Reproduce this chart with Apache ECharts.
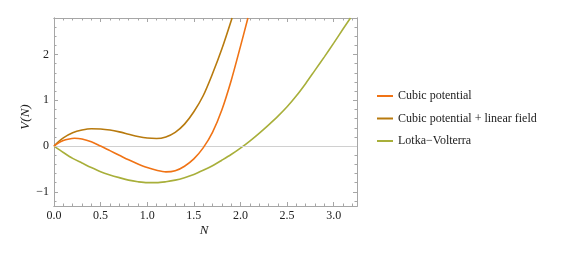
<!DOCTYPE html>
<html><head><meta charset="utf-8">
<script src="https://cdn.jsdelivr.net/npm/echarts@6/dist/echarts.min.js"></script>
<style>html,body{margin:0;padding:0;background:#fff}#c{width:569px;height:253px}</style>
</head><body><div id="c"></div>
<script>
// Series names
const seriesNames = ["Cubic potential", "Cubic potential + linear field", "Lotka\u2212Volterra"];
// Cubic potential
const cubicN = [0, 0.05, 0.1, 0.15, 0.22, 0.3, 0.4, 0.5, 0.6, 0.7, 0.8, 0.9, 1.0, 1.1, 1.2, 1.3, 1.4, 1.5, 1.6, 1.7, 1.8, 1.9, 2.0, 2.08];
const cubicV = [0, 0.07, 0.12, 0.15, 0.17, 0.155, 0.095, 0.0, -0.1, -0.2, -0.3, -0.39, -0.47, -0.53, -0.565, -0.54, -0.44, -0.28, -0.04, 0.30, 0.79, 1.43, 2.18, 2.8];
// Cubic potential + linear field
const linN = [0, 0.05, 0.1, 0.2, 0.3, 0.4, 0.5, 0.6, 0.7, 0.8, 0.9, 1.0, 1.1, 1.2, 1.3, 1.4, 1.5, 1.6, 1.7, 1.8, 1.91];
const linV = [0, 0.1, 0.18, 0.29, 0.35, 0.38, 0.375, 0.35, 0.31, 0.26, 0.21, 0.175, 0.165, 0.2, 0.3, 0.48, 0.75, 1.1, 1.58, 2.12, 2.8];
// Lotka-Volterra
const lvN = [0, 0.1, 0.2, 0.3, 0.4, 0.5, 0.6, 0.7, 0.8, 0.9, 1.0, 1.1, 1.2, 1.3, 1.4, 1.5, 1.6, 1.7, 1.8, 1.9, 2.0, 2.1, 2.2, 2.3, 2.4, 2.5, 2.6, 2.7, 2.8, 2.9, 3.0, 3.1, 3.18];
const lvV = [0, -0.14, -0.27, -0.37, -0.47, -0.56, -0.63, -0.69, -0.745, -0.78, -0.8, -0.8, -0.78, -0.745, -0.69, -0.62, -0.53, -0.43, -0.31, -0.185, -0.045, 0.11, 0.28, 0.46, 0.65, 0.86, 1.1, 1.37, 1.66, 1.95, 2.25, 2.56, 2.8];
// Ticks
const xMajor = [0, 0.5, 1.0, 1.5, 2.0, 2.5, 3.0];
const xMinor = [0.1,0.2,0.3,0.4,0.6,0.7,0.8,0.9,1.1,1.2,1.3,1.4,1.6,1.7,1.8,1.9,2.1,2.2,2.3,2.4,2.6,2.7,2.8,2.9,3.1,3.2];
const yMajor = [-1, 0, 1, 2];
const yMinor = [-1.2,-0.8,-0.6,-0.4,-0.2,0.2,0.4,0.6,0.8,1.2,1.4,1.6,1.8,2.2,2.4,2.6];
const xRange = [0, 3.25];
const yRange = [-1.31, 2.8];
const xTitle = 'N';
const yTitle = 'V(N)';

const colors = ["#F07315", "#B87A0E", "#A8AF3A"];
const frame = "#a6a6a6";
const font = "Liberation Serif";

function pairs(a, b) { return a.map((v, i) => [v, b[i]]); }

function xAx(pos, vals, len, labels) {
  return {
    type: 'value', position: pos, min: xRange[0], max: xRange[1],
    axisLine: {show: true, onZero: false, lineStyle: {color: frame, width: 1}},
    axisTick: {show: true, inside: true, length: len, customValues: vals, lineStyle: {color: frame}},
    axisLabel: labels ? {show: true, customValues: xMajor, formatter: v => v.toFixed(1), color: '#222', fontFamily: font, fontSize: 12, margin: 4} : {show: false},
    splitLine: {show: false}
  };
}
function yAx(pos, vals, len, labels) {
  return {
    type: 'value', position: pos, min: yRange[0], max: yRange[1],
    axisLine: {show: true, onZero: false, lineStyle: {color: frame, width: 1}},
    axisTick: {show: true, inside: true, length: len, customValues: vals, lineStyle: {color: frame}},
    axisLabel: labels ? {show: true, customValues: yMajor, formatter: v => String(v).replace('-', '\u2212'), color: '#222', fontFamily: font, fontSize: 12, margin: 5} : {show: false},
    splitLine: {show: false}
  };
}

const xAxes = [xAx('bottom', xMajor, 4, true), xAx('bottom', xMinor, 2.5, false), xAx('top', xMajor, 4, false), xAx('top', xMinor, 2.5, false)];
const yAxes = [yAx('left', yMajor, 4, true), yAx('left', yMinor, 2.5, false), yAx('right', yMajor, 4, false), yAx('right', yMinor, 2.5, false)];

const data = [pairs(cubicN, cubicV), pairs(linN, linV), pairs(lvN, lvV)];
const series = data.map((d, i) => ({
  name: seriesNames[i], type: 'line', data: d, smooth: 0.3, showSymbol: false,
  lineStyle: {color: colors[i], width: 1.6}, itemStyle: {color: colors[i]},
  clip: true, z: 5 - i
}));
series.push({
  type: 'line', data: [], silent: true,
  markLine: {silent: true, symbol: 'none', label: {show: false}, lineStyle: {color: '#d0d0d0', width: 1, type: 'solid'}, data: [{yAxis: 0}]},
  z: 1
});

const chart = echarts.init(document.getElementById('c'), null, {renderer: 'canvas'});
chart.setOption({
  animation: false,
  backgroundColor: '#fff',
  grid: {left: 54, right: 212, top: 18, bottom: 47, containLabel: false},
  xAxis: xAxes,
  yAxis: yAxes,
  graphic: [{
    type: 'text', x: 26, y: 117, rotation: Math.PI / 2,
    style: {text: yTitle, font: 'italic 13px "Liberation Serif"', fill: '#222', align: 'center', verticalAlign: 'middle'}
  }, {
    type: 'text', x: 204, y: 231,
    style: {text: xTitle, font: 'italic 13px "Liberation Serif"', fill: '#222', align: 'center', verticalAlign: 'middle'}
  }],
  legend: {
    orient: 'vertical', left: 372, top: 84, itemWidth: 16, itemHeight: 2, itemGap: 8.5,
    icon: 'rect', data: seriesNames,
    textStyle: {fontFamily: font, fontSize: 12, color: '#222', lineHeight: 14}
  },
  series: series
});
</script></body></html>
